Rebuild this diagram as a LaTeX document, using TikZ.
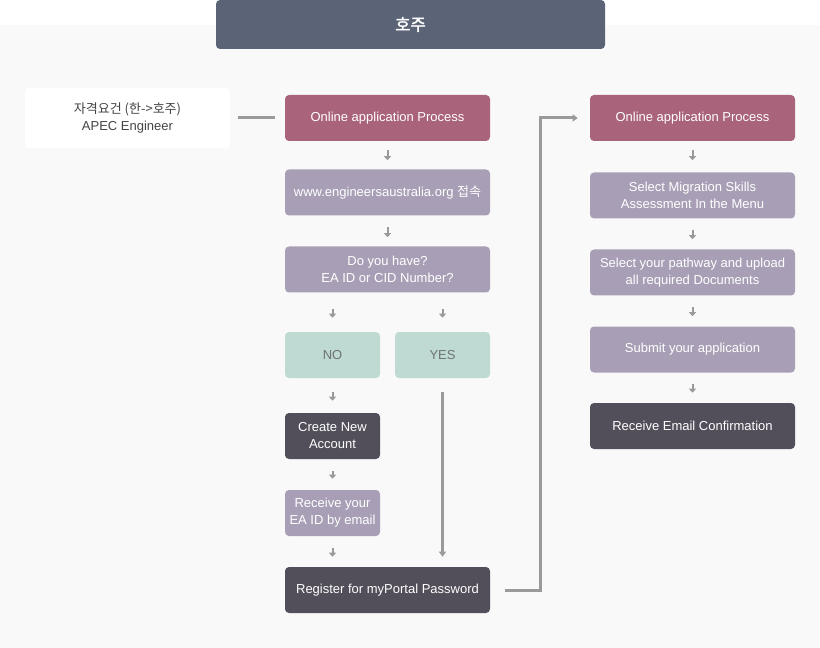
\documentclass[tikz,border=0pt]{standalone}
\usepackage{fontspec}
\setmainfont{Liberation Sans}
\newfontfamily\kr[AutoFakeBold=2]{Noto Sans CJK KR}
\usetikzlibrary{arrows.meta,calc}
\definecolor{titlec}{HTML}{5B6377}
\definecolor{pinkc}{HTML}{A9637A}
\definecolor{lavc}{HTML}{A89FB6}
\definecolor{mintc}{HTML}{BFDAD2}
\definecolor{darkc}{HTML}{524F5A}
\definecolor{bgc}{HTML}{F9F9F9}
\definecolor{arrc}{HTML}{9A9A9A}
\definecolor{minttext}{HTML}{6E7275}
\definecolor{lefttext}{HTML}{444444}
\begin{document}
\begin{tikzpicture}[x=0.75pt,y=-0.75pt,
  box/.style={rounded corners=3pt, align=center, inner sep=0pt,
    font=\fontsize{9.75}{12.75}\selectfont, text=white},
  wide/.style={box, minimum width=153.75pt, minimum height=34.5pt},
  narrow/.style={box, minimum width=71.25pt, minimum height=34.5pt},
  pinkbox/.style={wide, fill=pinkc},
  lavbox/.style={wide, fill=lavc},
  lavnarrow/.style={narrow, fill=lavc},
  darkbox/.style={wide, fill=darkc},
  darknarrow/.style={narrow, fill=darkc},
  mintbox/.style={narrow, fill=mintc, text=minttext},
  sarr/.style={draw=arrc, line width=1.5pt, -{Triangle[width=5.25pt,length=3pt]}},
  conn/.style={draw=arrc, line width=2.25pt}
]
\useasboundingbox (0,0) rectangle (820,648);
\fill[white] (0,0) rectangle (820,648);
\fill[bgc] (0,25) rectangle (820,648);

% title
\node[fill=titlec, rounded corners=3pt, minimum width=291.75pt, minimum height=36.75pt,
  inner sep=0pt, text=white, font=\fontsize{12.5}{14}\selectfont\kr\bfseries] (title) at (410.5,24.5) {호주};

% left box
\node[fill=white, rounded corners=3pt, minimum width=153.75pt, minimum height=45pt,
  inner sep=0pt, align=center, text=lefttext, font=\fontsize{9.75}{12.75}\selectfont] (left) at (127.5,118)
  {{\kr 자격요건 (한->호주)}\\APEC Engineer};

% column 1
\node[pinkbox] (on1) at (387.5,118) {Online application Process};
\node[lavbox] (www) at (387.5,192.5) {www.engineersaustralia.org {\kr 접속}};
\node[lavbox] (do) at (387.5,269.5) {Do you have?\\EA ID or CID Number?};
\node[mintbox] (no) at (332.5,355) {NO};
\node[mintbox] (yes) at (442.5,355) {YES};
\node[darknarrow] (cre) at (332.5,436) {Create New\\Account};
\node[lavnarrow] (rec) at (332.5,513) {Receive your\\EA ID by email};
\node[darkbox] (reg) at (387.5,590) {Register for myPortal Password};

% column 2
\node[pinkbox] (on2) at (692.5,118) {Online application Process};
\node[lavbox] (sel) at (692.5,195.5) {Select Migration Skills\\Assessment In the Menu};
\node[lavbox] (path) at (692.5,272.5) {Select your pathway and upload\\all required Documents};
\node[lavbox] (sub) at (692.5,349.5) {Submit your application};
\node[darkbox] (conf) at (692.5,426) {Receive Email Confirmation};

% connectors
\draw[conn, shorten <=6pt, shorten >=7.5pt] (left) -- (on1);

\draw[sarr, shorten <=6.75pt, shorten >=6.75pt] (on1) -- (www);
\draw[sarr, shorten <=8.25pt, shorten >=6.75pt] (www) -- (do);
\draw[sarr, shorten <=12pt, shorten >=10.5pt] (no.north |- do.south) -- (no.north);
\draw[sarr, shorten <=12pt, shorten >=10.5pt] (yes.north |- do.south) -- (yes.north);
\draw[sarr, shorten <=10.5pt, shorten >=9pt] (no) -- (cre);
\draw[sarr, shorten <=9pt, shorten >=8.25pt] (cre) -- (rec);
\draw[sarr, shorten <=9pt, shorten >=7.5pt] (rec.south) -- (rec.south |- reg.north);
\draw[draw=arrc, line width=1.9pt, -{Triangle[width=5.25pt,length=3.75pt]},
  shorten <=10.5pt, shorten >=7.5pt] (yes.south) -- (yes.south |- reg.north);

\coordinate (bend) at (540,590);
\draw[conn, -{Triangle[width=5.25pt,length=3.75pt]}, shorten <=11.25pt, shorten >=9pt]
  (reg.east) -- (bend) |- (on2.west);

\draw[sarr, shorten <=6.75pt, shorten >=9pt] (on2) -- (sel);
\draw[sarr, shorten <=8.25pt, shorten >=7.5pt] (sel) -- (path);
\draw[sarr, shorten <=8.25pt, shorten >=7.5pt] (path) -- (sub);
\draw[sarr, shorten <=8.25pt, shorten >=7.5pt] (sub) -- (conf);
\end{tikzpicture}
\end{document}
